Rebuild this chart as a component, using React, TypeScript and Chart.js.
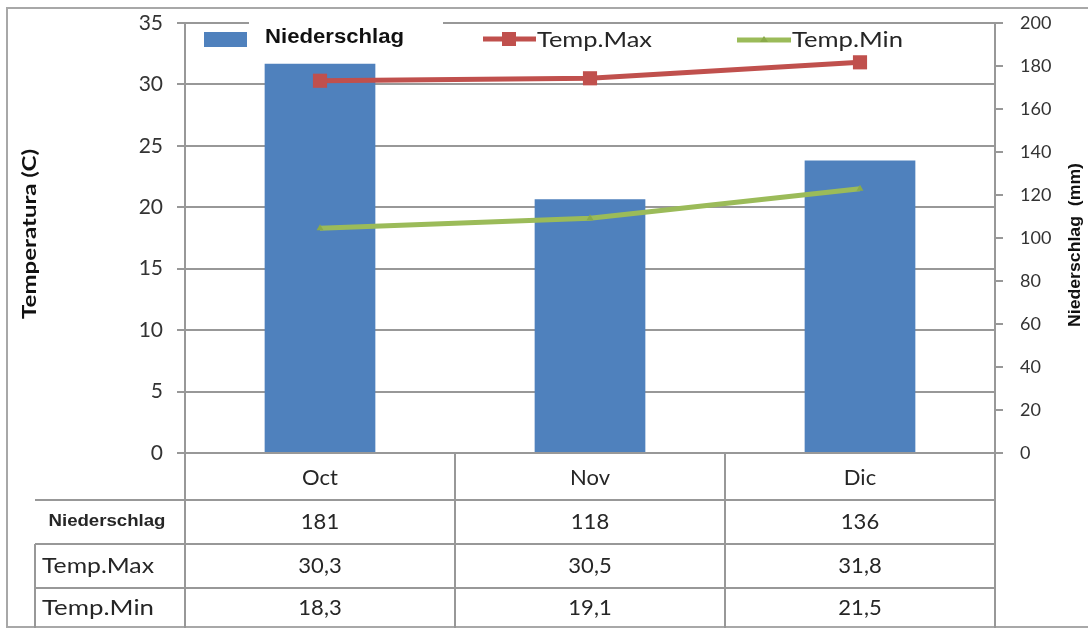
import React, { useEffect, useRef } from "react";
import { Chart, registerables } from "chart.js";

Chart.register(...registerables);

// ---------- data ----------
const categories = ["Oct", "Nov", "Dic"];
const niederschlag = [181, 118, 136];
const tempMax = [30.3, 30.5, 31.8];
const tempMin = [18.3, 19.1, 21.5];
const seriesNames = ["Niederschlag", "Temp.Max", "Temp.Min"];
const leftAxisTitle = "Temperatura (C)";
const rightAxisTitle = "Niederschlag  (mm)";
const tempRange = [0, 35, 5];
const rainRange = [0, 200, 20];

// ---------- style ----------
const W = 1088;
const H = 628;
const BLUE = "#4F81BD";
const RED = "#C0504D";
const GREEN = "#9BBB59";
const LINE = "#989898";
const TEXT = "#262626";
const FONT = "Lato, 'Open Sans', sans-serif";
const ARIAL = "'Liberation Sans', Arial, sans-serif";

function fitText(ctx: CanvasRenderingContext2D, text: string, x: number, y: number, width: number, align: CanvasTextAlign) {
  const w = ctx.measureText(text).width;
  const s = width / w;
  ctx.save();
  ctx.translate(x, y);
  ctx.scale(s, 1);
  ctx.textAlign = align;
  ctx.textBaseline = "middle";
  ctx.fillText(text, 0, 0);
  ctx.restore();
}

function fitRotated(ctx: CanvasRenderingContext2D, text: string, cx: number, cy: number, len: number) {
  ctx.save();
  ctx.translate(cx, cy);
  ctx.rotate(-Math.PI / 2);
  const w = ctx.measureText(text).width;
  ctx.scale(len / w, 1);
  ctx.textAlign = "center";
  ctx.textBaseline = "middle";
  ctx.fillText(text, 0, 0);
  ctx.restore();
}

const fmt1 = (v: number) => v.toFixed(1).replace(".", ",");

const decorPlugin = {
  id: "decor",
  beforeDatasetsDraw(chart: any) {
    const ctx = chart.ctx as CanvasRenderingContext2D;
    ctx.save();
    ctx.fillStyle = "#ffffff";
    ctx.fillRect(249, 12, 194, 36);
    ctx.restore();
  },
  afterDraw(chart: any) {
    const ctx = chart.ctx as CanvasRenderingContext2D;
    const area = chart.chartArea;
    const xs = chart.scales.x;

    ctx.save();
    // outer frame
    ctx.strokeStyle = "#a8a8a8";
    ctx.lineWidth = 2;
    ctx.strokeRect(7, 8, W + 20, 619);

    // ----- data table -----
    const centers = categories.map((_, i) => xs.getPixelForValue(i));
    const step = centers.length > 1 ? centers[1] - centers[0] : area.right - area.left;
    const edges = [centers[0] - step / 2, ...centers.map((c) => c + step / 2)];
    const catBottom = 500;
    const rowLines = [500, 544, 588];
    const tableLeft = 35;
    const bottom = H + 10;

    ctx.strokeStyle = LINE;
    ctx.lineWidth = 2;
    ctx.beginPath();
    rowLines.forEach((y) => {
      ctx.moveTo(tableLeft, y);
      ctx.lineTo(area.right + 1, y);
    });
    edges.forEach((x) => {
      ctx.moveTo(x, area.bottom);
      ctx.lineTo(x, bottom);
    });
    ctx.moveTo(tableLeft, rowLines[1]);
    ctx.lineTo(tableLeft, bottom);
    ctx.stroke();

    ctx.fillStyle = TEXT;
    ctx.textBaseline = "middle";
    ctx.textAlign = "center";
    ctx.font = `22px ${FONT}`;
    const catY = (area.bottom + catBottom) / 2 + 1;
    categories.forEach((c, i) => ctx.fillText(c, centers[i], catY));

    const rowY = [522, 566, 608];
    const rows = [
      niederschlag.map((v) => String(v)),
      tempMax.map(fmt1),
      tempMin.map(fmt1),
    ];
    rows.forEach((r, ri) => {
      r.forEach((t, i) => ctx.fillText(t, centers[i], rowY[ri]));
    });

    // row headers
    ctx.font = `bold 16px ${ARIAL}`;
    fitText(ctx, seriesNames[0], 107, rowY[0], 117, "center");
    ctx.font = `22px ${FONT}`;
    ctx.textAlign = "left";
    fitText(ctx, seriesNames[1], 42, rowY[1], 112, "left");
    fitText(ctx, seriesNames[2], 42, rowY[2], 112, "left");

    // ----- axis titles -----
    ctx.fillStyle = "#111";
    ctx.font = `bold 18px ${FONT}`;
    fitRotated(ctx, leftAxisTitle, 30, 234, 170);
    ctx.font = `bold 16px ${ARIAL}`;
    fitRotated(ctx, rightAxisTitle, 1076, 245, 164);

    // ----- legend -----
    ctx.fillStyle = BLUE;
    ctx.fillRect(204, 32, 43, 15);
    ctx.fillStyle = "#111";
    ctx.font = `bold 20px ${ARIAL}`;
    fitText(ctx, seriesNames[0], 265, 37, 139, "left");

    // Temp.Max
    ctx.strokeStyle = RED;
    ctx.lineWidth = 5;
    ctx.beginPath();
    ctx.moveTo(483, 39);
    ctx.lineTo(536, 39);
    ctx.stroke();
    ctx.fillStyle = RED;
    ctx.fillRect(502, 32, 14, 14);
    ctx.fillStyle = TEXT;
    ctx.font = `21px ${FONT}`;
    fitText(ctx, seriesNames[1], 537, 40, 115, "left");

    // Temp.Min
    ctx.strokeStyle = GREEN;
    ctx.beginPath();
    ctx.moveTo(737, 40);
    ctx.lineTo(791, 40);
    ctx.stroke();
    ctx.fillStyle = "#8aaa4a";
    ctx.beginPath();
    ctx.moveTo(764, 36);
    ctx.lineTo(768, 42);
    ctx.lineTo(760, 42);
    ctx.closePath();
    ctx.fill();
    ctx.fillStyle = TEXT;
    fitText(ctx, seriesNames[2], 792, 40, 111, "left");

    ctx.restore();
  },
};

export default function App() {
  const ref = useRef<HTMLCanvasElement | null>(null);

  useEffect(() => {
    if (!ref.current) return;
    const chart = new Chart(ref.current, {
      type: "bar",
      data: {
        labels: categories,
        datasets: [
          {
            type: "line",
            label: seriesNames[1],
            data: tempMax,
            yAxisID: "y",
            borderColor: RED,
            backgroundColor: RED,
            borderWidth: 5,
            pointStyle: "rect",
            pointRadius: 10,
            pointBackgroundColor: RED,
            pointBorderColor: RED,
            pointBorderWidth: 0,
            order: 0,
          } as any,
          {
            type: "line",
            label: seriesNames[2],
            data: tempMin,
            yAxisID: "y",
            borderColor: GREEN,
            backgroundColor: GREEN,
            borderWidth: 5,
            pointStyle: "triangle",
            pointRadius: 4,
            pointBackgroundColor: "#8aaa4a",
            pointBorderColor: "#8aaa4a",
            pointBorderWidth: 0,
            order: 1,
          } as any,
          {
            type: "bar",
            label: seriesNames[0],
            data: niederschlag,
            yAxisID: "y1",
            backgroundColor: BLUE,
            borderWidth: 0,
            barPercentage: 0.41,
            categoryPercentage: 1,
            order: 2,
          } as any,
        ],
      },
      options: {
        responsive: false,
        maintainAspectRatio: false,
        animation: false,
        layout: { padding: { left: 0, right: 0, top: 23, bottom: H - 453 } },
        plugins: {
          legend: { display: false },
          tooltip: { enabled: false },
        },
        scales: {
          x: {
            type: "category",
            display: false,
            offset: true,
          },
          y: {
            position: "left",
            min: tempRange[0],
            max: tempRange[1],
            ticks: {
              stepSize: tempRange[2],
              padding: 14,
              color: "#333",
              font: { family: FONT, size: 21 },
            },
            grid: { color: LINE, lineWidth: 2, tickLength: 8 },
            border: { display: true, color: LINE, width: 2 },
            afterFit: (s: any) => {
              s.width = 185;
              s.paddingTop = 0;
              s.paddingBottom = 0;
            },
          },
          y1: {
            position: "right",
            min: rainRange[0],
            max: rainRange[1],
            ticks: {
              stepSize: rainRange[2],
              padding: 17,
              color: "#333",
              font: { family: FONT, size: 18 },
            },
            grid: { drawOnChartArea: false, color: LINE, lineWidth: 2, tickLength: 8 },
            border: { display: true, color: LINE, width: 2 },
            afterFit: (s: any) => {
              s.width = W - 995;
              s.paddingTop = 0;
              s.paddingBottom = 0;
            },
          },
        },
      } as any,
      plugins: [decorPlugin],
    });
    return () => chart.destroy();
  }, []);

  return (
    <div style={{ position: "fixed", left: 0, top: 0, width: W, height: H, background: "#fff" }}>
      <canvas ref={ref} width={W} height={H} style={{ width: W, height: H, display: "block" }} />
    </div>
  );
}
